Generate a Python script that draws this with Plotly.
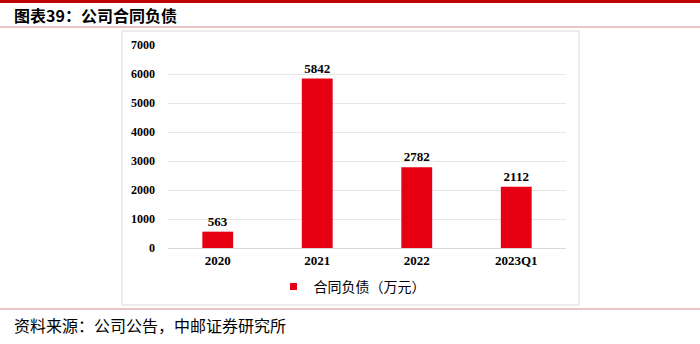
import plotly.graph_objects as go

categories = ["2020", "2021", "2022", "2023Q1"]
values = [563, 5842, 2782, 2112]
y_ticks = [0, 1000, 2000, 3000, 4000, 5000, 6000, 7000]
series_name = "合同负债（万元）"

W, H = 700, 344
L, R, T, B = 168, 134, 45, 96
PW, PH = W - L - R, H - T - B

def px(x):
    return (x - L) / PW

def py(y):
    return (H - B - y) / PH

fig = go.Figure()
fig.add_trace(go.Bar(
    x=categories, y=values, name=series_name, showlegend=False,
    marker=dict(color="#E60012", line=dict(width=0)),
    width=0.31,
    texttemplate="%{y}", textposition="outside",
    textfont=dict(family="Liberation Serif", size=13, color="#000000", weight="bold"),
    cliponaxis=False,
))
fig.add_trace(go.Scatter(
    x=[None], y=[None], mode="markers", name=series_name,
    marker=dict(symbol="square", size=7, color="#E60012"),
))

shapes = [
    dict(type="line", xref="paper", yref="paper", x0=px(0), x1=px(700), y0=py(1.5), y1=py(1.5),
         line=dict(color="#C00000", width=3)),
    dict(type="line", xref="paper", yref="paper", x0=px(0), x1=px(700), y0=py(27), y1=py(27),
         line=dict(color="#D98A8A", width=1)),
    dict(type="line", xref="paper", yref="paper", x0=px(0), x1=px(700), y0=py(309), y1=py(309),
         line=dict(color="#D98A8A", width=1)),
    dict(type="rect", xref="paper", yref="paper", x0=px(122), x1=px(579), y0=py(31), y1=py(305),
         line=dict(color="#E6E6E6", width=1.5), layer="below"),
]

annotations = [
    dict(text="<b>图表39：公司合同负债</b>", xref="paper", yref="paper", x=px(12), y=py(15),
         xanchor="left", yanchor="middle", showarrow=False,
         font=dict(family="Noto Sans CJK SC", size=16, color="#000000")),
    dict(text="资料来源：公司公告，中邮证券研究所", xref="paper", yref="paper", x=px(12), y=py(325),
         xanchor="left", yanchor="middle", showarrow=False,
         font=dict(family="Noto Sans CJK SC", size=16, color="#000000")),
]

fig.update_layout(
    width=W, height=H,
    margin=dict(l=L, r=R, t=T, b=B),
    paper_bgcolor="#FFFFFF", plot_bgcolor="#FFFFFF",
    shapes=shapes, annotations=annotations,
    showlegend=True,
    legend=dict(orientation="h", x=px(352), y=py(287), xanchor="center", yanchor="middle",
                font=dict(family="Noto Sans CJK SC", size=14, color="#000000"),
                itemwidth=30, bgcolor="rgba(0,0,0,0)"),
    xaxis=dict(showgrid=False, showline=True, linecolor="#D9D9D9", linewidth=1,
               tickfont=dict(family="Liberation Serif", size=13, color="#000000", weight="bold"),
               ticks=""),
    yaxis=dict(range=[0, 7000], tickvals=y_ticks, showgrid=True, gridcolor="#E6E6E6", gridwidth=1,
               zeroline=False, showline=False, ticks="", ticklabelstandoff=12,
               tickfont=dict(family="Liberation Serif", size=12, color="#000000", weight="bold")),
)

fig.write_html("out.html")
